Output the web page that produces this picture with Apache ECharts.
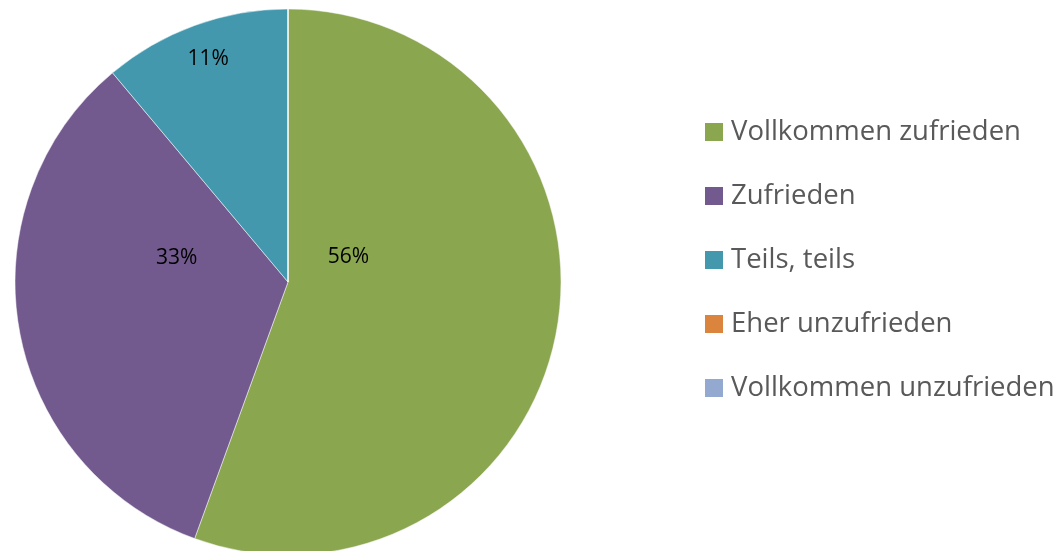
<!DOCTYPE html>
<html>
<head>
<meta charset="utf-8">
<script src="https://cdn.jsdelivr.net/npm/echarts@6/dist/echarts.min.js"></script>
<style>
  html, body { margin: 0; padding: 0; background: #fff; }
  #chart { width: 1062px; height: 551px; }
</style>
</head>
<body>
<div id="chart"></div>
<script>
var categories = ['Vollkommen zufrieden', 'Zufrieden', 'Teils, teils', 'Eher unzufrieden', 'Vollkommen unzufrieden'];
var counts = [5, 3, 1, 0, 0];
var colors = ['#8AA64F', '#725A8E', '#4398AE', '#DB843D', '#93A9CF'];

// nudge labels to where Excel put them
var labelShift = [[-77, -49], [26, -48], [-32, -92], [0, 0], [0, 0]];

var chart = echarts.init(document.getElementById('chart'));

var pieData = categories.map(function (name, i) {
    return { name: name, value: counts[i], itemStyle: { color: colors[i] } };
});

var option = {
    animation: false,
    legend: {
        orient: 'vertical',
        left: 705,
        top: 118,
        padding: 0,
        itemWidth: 18,
        itemHeight: 18,
        itemGap: 36,
        icon: 'rect',
        data: categories,
        itemStyle: { borderWidth: 0 },
        textStyle: {
            fontFamily: 'Open Sans',
            fontSize: 27.5,
            lineHeight: 27.5,
            color: '#595959',
            padding: [0, 0, 0, 3]
        }
    },
    series: [
        {
            name: 'Zufriedenheit',
            type: 'pie',
            radius: 273,
            center: [288, 282],
            startAngle: 90,
            clockwise: true,
            stillShowZeroSum: false,
            avoidLabelOverlap: false,
            itemStyle: { borderColor: '#fff', borderWidth: 0.5 },
            label: {
                show: true,
                position: 'inner',
                fontFamily: 'Open Sans',
                fontSize: 21,
                color: '#000',
                formatter: function (p) {
                    return p.value > 0 ? Math.round(p.percent) + '%' : '';
                }
            },
            labelLine: { show: false },
            labelLayout: function (p) {
                var s = labelShift[p.dataIndex];
                return { dx: s[0], dy: s[1] };
            },
            percentPrecision: 1,
            emphasis: { disabled: true },
            data: pieData
        }
    ]
};

chart.setOption(option);
</script>
</body>
</html>
